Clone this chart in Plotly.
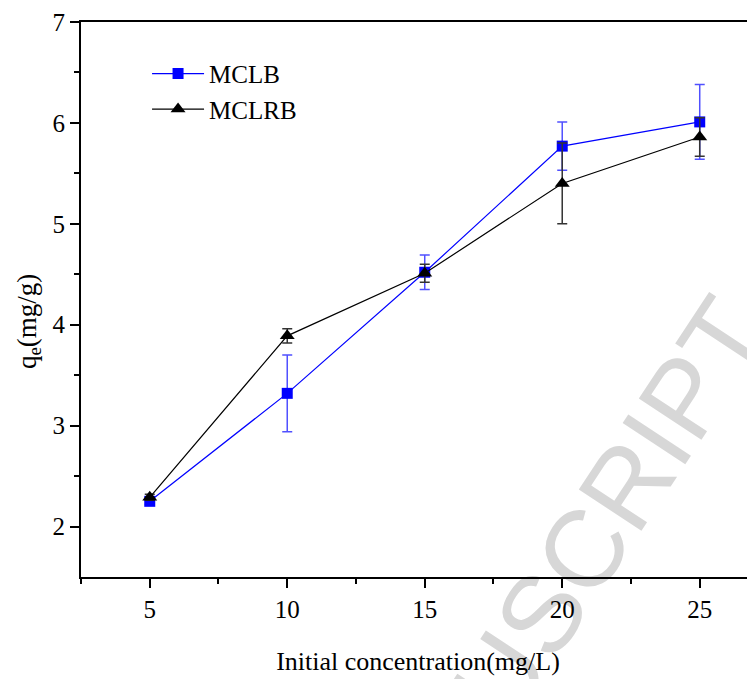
import plotly.graph_objects as go

# Data
conc = [5, 10, 15, 20, 25]
mclb_qe = [2.25, 3.32, 4.52, 5.77, 6.01]
mclb_err = [0.03, 0.38, 0.17, 0.24, 0.37]
mclrb_qe = [2.29, 3.89, 4.51, 5.40, 5.86]
mclrb_err = [0.03, 0.07, 0.09, 0.40, 0.19]

x_ticks = [5, 10, 15, 20, 25]
x_minor = [2.5, 7.5, 12.5, 17.5, 22.5]
y_ticks = [2, 3, 4, 5, 6, 7]
y_minor = [2.5, 3.5, 4.5, 5.5, 6.5]

serif = "Liberation Serif, Times New Roman, serif"

fig = go.Figure()
fig.add_trace(go.Scatter(
    x=conc, y=mclb_qe, name="MCLB", mode="lines+markers",
    line=dict(color="#0000ff", width=1.2),
    marker=dict(symbol="square", size=11, color="#0000ff"),
    error_y=dict(type="data", array=mclb_err, visible=True,
                 color="rgb(80,80,255)", thickness=1.5, width=5),
))
fig.add_trace(go.Scatter(
    x=conc, y=mclrb_qe, name="MCLRB", mode="lines+markers",
    line=dict(color="#000000", width=1.2),
    marker=dict(symbol="triangle-up", size=13, color="#000000"),
    error_y=dict(type="data", array=mclrb_err, visible=True,
                 color="#333333", thickness=1.5, width=5),
))

# watermark (behind the plot content)
fig.add_shape(
    type="line", xref="paper", yref="paper",
    x0=0.3368, y0=-0.671, x1=0.5, y1=-0.370,
    line=dict(width=0, color="rgba(0,0,0,0)"), layer="below",
    label=dict(text="ACCEPTED MANUSCRIPT", textposition="middle",
               textangle=-56.6, yanchor="middle", xanchor="center",
               font=dict(family="Liberation Sans, Arial, sans-serif",
                         size=109, color="rgb(215,215,215)")),
)

# y-axis title
fig.add_annotation(
    text="q<sub>e</sub>(mg/g)", xref="paper", yref="paper",
    x=-0.0772, y=0.461, xanchor="center", yanchor="middle",
    textangle=-90, showarrow=False,
    font=dict(family=serif, size=27, color="black"),
)

fig.update_layout(
    width=755, height=679,
    margin=dict(l=73, r=8, t=14, b=110, pad=0, autoexpand=False),
    paper_bgcolor="white", plot_bgcolor="rgba(0,0,0,0)",
    font=dict(family=serif, size=25, color="black"),
    showlegend=True,
    legend=dict(x=0.098, y=0.948, xanchor="left", yanchor="top",
                bgcolor="rgba(0,0,0,0)", borderwidth=0, itemwidth=52,
                font=dict(family=serif, size=25, color="black")),
    xaxis=dict(
        range=[2.5, 27.01], tickvals=x_ticks, ticktext=[str(v) for v in x_ticks],
        showline=True, linecolor="black", linewidth=2, mirror=True,
        ticks="outside", ticklen=9, tickwidth=2, tickcolor="black",
        ticklabelstandoff=0, automargin=False,
        minor=dict(tickvals=x_minor, ticks="outside", ticklen=5, tickwidth=2, tickcolor="black"),
        showgrid=False, zeroline=False,
        tickfont=dict(family=serif, size=25, color="black"),
        title=dict(text="Initial concentration(mg/L)", standoff=30,
                   font=dict(family=serif, size=26, color="black")),
    ),
    yaxis=dict(
        range=[1.5, 7], tickvals=y_ticks, ticktext=[str(v) for v in y_ticks],
        showline=True, linecolor="black", linewidth=2, mirror=False,
        ticks="outside", ticklen=9, tickwidth=2, tickcolor="black",
        automargin=False,
        minor=dict(tickvals=y_minor, ticks="outside", ticklen=5, tickwidth=2, tickcolor="black"),
        showgrid=False, zeroline=False,
        tickfont=dict(family=serif, size=25, color="black"),
    ),
)

fig.write_html("out.html")
